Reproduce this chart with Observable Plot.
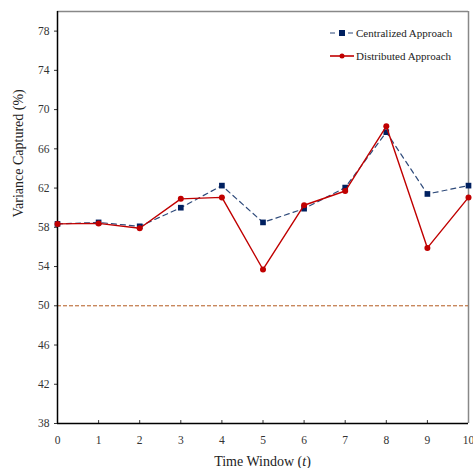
<!DOCTYPE html>
<html>
<head>
<meta charset="utf-8">
<script src="https://cdn.jsdelivr.net/npm/d3@7"></script>
<script src="https://cdn.jsdelivr.net/npm/@observablehq/plot@0.6"></script>
<style>
  body { margin: 0; background: #fff; }
  #wrap { position: relative; width: 473px; height: 468px; font-family: "Liberation Serif", "Times New Roman", serif; }
  #legend { position: absolute; left: 330px; top: 21px; font-size: 11px; color: #222; }
  .item { display: flex; align-items: center; height: 23px; }
  .item svg { margin-right: 2px; }
  svg text { font-family: "Liberation Serif", "Times New Roman", serif; }
</style>
</head>
<body>
<div id="wrap">
  <div id="chart"></div>
  <div id="legend"></div>
</div>
<script>
const timeWindows = [0, 1, 2, 3, 4, 5, 6, 7, 8, 9, 10];
const centralized = [58.35, 58.5, 58.1, 60.0, 62.25, 58.5, 59.9, 62.05, 67.7, 61.4, 62.25];
const distributed = [58.35, 58.4, 57.9, 60.9, 61.05, 53.7, 60.25, 61.7, 68.3, 55.9, 61.05];
const threshold = 50;
const yTicks = [38, 42, 46, 50, 54, 58, 62, 66, 70, 74, 78];
const xTicks = [0, 1, 2, 3, 4, 5, 6, 7, 8, 9, 10];
const seriesNames = ["Centralized Approach", "Distributed Approach"];

const cData = timeWindows.map((t, i) => ({t, v: centralized[i]}));
const dData = timeWindows.map((t, i) => ({t, v: distributed[i]}));

const navy = "#002060";
const navyLine = "#2e4a7a";
const red = "#c00000";

const chart = Plot.plot({
  width: 473,
  height: 468,
  marginLeft: 57,
  marginRight: 5,
  marginTop: 11,
  marginBottom: 45,
  style: {fontFamily: "'Liberation Serif', 'Times New Roman', serif", fontSize: "11.5px", color: "#333"},
  x: {domain: [0, 10]},
  y: {domain: [38, 80]},
  marks: [
    // frame
    Plot.ruleY([80], {stroke: "#888", strokeWidth: 1.5}),
    Plot.ruleX([10], {stroke: "#888", strokeWidth: 1.5}),
    // threshold
    Plot.ruleY([threshold], {stroke: "#b35a1f", strokeWidth: 1, strokeDasharray: "4,2"}),
    // inward x ticks
    Plot.ruleX(xTicks.slice(1, -1), {x: d => d, y1: 38, y2: 38.3, stroke: "#333"}),
    Plot.axisX({ticks: xTicks, tickSize: 0, tickPadding: 12, tickFormat: d => d, fontSize: 11.5, label: null}),
    Plot.axisY({ticks: yTicks, tickSize: 3, tickPadding: 5, fontSize: 11.5, label: null}),
    Plot.ruleX([0], {stroke: "#000", strokeWidth: 1.5}),
    Plot.ruleY([38], {stroke: "#000", strokeWidth: 1.5}),
    // series
    Plot.line(cData, {x: "t", y: "v", stroke: navyLine, strokeWidth: 1.2, strokeDasharray: "5,4"}),
    Plot.dot(cData, {x: "t", y: "v", symbol: "square", r: 3.2, fill: navy, stroke: "none"}),
    Plot.line(dData, {x: "t", y: "v", stroke: red, strokeWidth: 1.4}),
    Plot.dot(dData, {x: "t", y: "v", symbol: "circle", r: 3, fill: red, stroke: "none"}),
    // axis labels
    Plot.text(["Variance Captured (%)"], {frameAnchor: "left", dx: -39, rotate: -90, fontSize: 14, fill: "#222"})
  ]
});
document.getElementById("chart").appendChild(chart);

// x axis label with italic t
const svg = d3.select(chart);
const xl = svg.append("text")
  .attr("x", 57 + (468 - 57) / 2)
  .attr("y", 466)
  .attr("text-anchor", "middle")
  .attr("font-size", 14)
  .attr("fill", "#222");
xl.append("tspan").text("Time Window (");
xl.append("tspan").attr("font-style", "italic").text("t");
xl.append("tspan").text(")");

// legend
const legend = document.getElementById("legend");
const mk = (name, type) => {
  const div = document.createElement("div");
  div.className = "item";
  let sw;
  if (type === "c") {
    sw = `<svg width="24" height="10"><line x1="0" y1="5" x2="24" y2="5" stroke="${navyLine}" stroke-width="1.2" stroke-dasharray="5,4"/><rect x="9" y="2" width="6" height="6" fill="${navy}"/></svg>`;
  } else {
    sw = `<svg width="24" height="10"><line x1="0" y1="5" x2="24" y2="5" stroke="${red}" stroke-width="1.6"/><circle cx="12" cy="5" r="2.5" fill="${red}"/></svg>`;
  }
  div.innerHTML = sw + `<span>${name}</span>`;
  legend.appendChild(div);
};
mk(seriesNames[0], "c");
mk(seriesNames[1], "d");
</script>
</body>
</html>
